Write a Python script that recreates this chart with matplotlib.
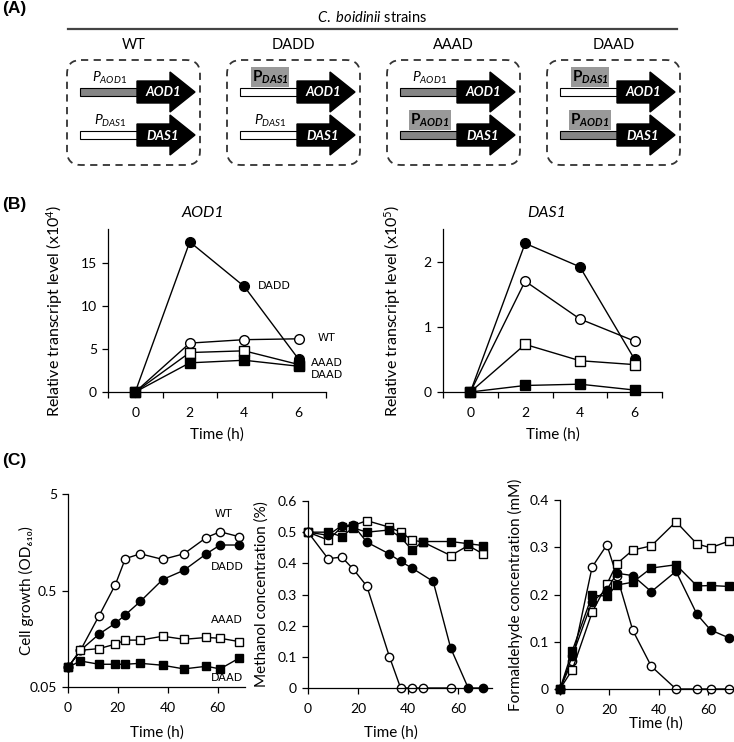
import numpy as np
import matplotlib
matplotlib.use('Agg')
import matplotlib.pyplot as plt
from matplotlib.patches import FancyBboxPatch, Rectangle, Polygon
from matplotlib.ticker import NullLocator

plt.rcParams['font.family'] = ['Lato', 'DejaVu Sans']
plt.rcParams['mathtext.fontset'] = 'custom'
plt.rcParams['mathtext.rm'] = 'Lato'
plt.rcParams['mathtext.it'] = 'Lato:italic'
plt.rcParams['mathtext.bf'] = 'Lato:bold'
plt.rcParams['mathtext.bfit'] = 'Lato:italic:bold'

# (A) strain constructs: promoter driving each gene
strain_names = ['WT', 'DADD', 'AAAD', 'DAAD']
aod1_promoter = ['AOD1', 'DAS1', 'AOD1', 'DAS1']
das1_promoter = ['DAS1', 'DAS1', 'AOD1', 'AOD1']

# (B) transcript levels
b_time = [0, 2, 4, 6]
aod1_wt = [0, 5.7, 6.1, 6.2]
aod1_dadd = [0, 17.5, 12.3, 3.8]
aod1_aaad = [0, 4.6, 4.8, 3.2]
aod1_daad = [0, 3.4, 3.7, 3.0]
das1_wt = [0, 1.70, 1.12, 0.78]
das1_dadd = [0, 2.28, 1.92, 0.50]
das1_aaad = [0, 0.73, 0.48, 0.42]
das1_daad = [0, 0.10, 0.12, 0.03]

# (C) cell growth
growth_time = [0, 5, 12.5, 19, 23, 29, 38, 46.5, 55.5, 61, 68.5]
growth_wt = [0.08, 0.12, 0.275, 0.575, 1.07, 1.2, 1.05, 1.2, 1.77, 2.03, 1.81]
growth_dadd = [0.08, 0.12, 0.177, 0.229, 0.28, 0.385, 0.65, 0.81, 1.2, 1.48, 1.48]
growth_aaad = [0.08, 0.12, 0.125, 0.139, 0.153, 0.153, 0.168, 0.156, 0.163, 0.16, 0.148]
growth_daad = [0.08, 0.093, 0.086, 0.086, 0.086, 0.088, 0.084, 0.077, 0.082, 0.077, 0.099]

# (C) methanol
meoh_time = [0, 8, 13.5, 18, 23.5, 32.5, 37, 41.5, 46, 57, 64, 70]
meoh_time_wt = [0, 8, 13.5, 18, 23.5, 32.5, 37, 41.5, 46, 57]
meoh_time_dadd = [0, 8, 13.5, 18, 23.5, 32.5, 37, 41.5, 50, 57, 64, 70]
meoh_wt = [0.5, 0.415, 0.42, 0.382, 0.327, 0.101, 0, 0, 0, 0]
meoh_dadd = [0.5, 0.49, 0.521, 0.523, 0.468, 0.43, 0.406, 0.385, 0.342, 0.128, 0, 0]
meoh_aaad = [0.5, 0.475, 0.516, 0.521, 0.537, 0.516, 0.5, 0.475, 0.468, 0.425, 0.457, 0.43]
meoh_daad = [0.5, 0.5, 0.486, 0.514, 0.5, 0.507, 0.484, 0.443, 0.47, 0.47, 0.463, 0.457]

# (C) formaldehyde
fa_time = [0, 5, 13, 19, 23, 29.5, 37, 47, 55.5, 61, 68.5]
fa_wt = [0, 0.06, 0.258, 0.305, 0.24, 0.124, 0.048, 0, 0, 0, 0]
fa_dadd = [0, 0.07, 0.185, 0.21, 0.245, 0.24, 0.206, 0.249, 0.158, 0.125, 0.108]
fa_aaad = [0, 0.041, 0.162, 0.222, 0.265, 0.294, 0.303, 0.354, 0.307, 0.299, 0.313]
fa_daad = [0, 0.081, 0.198, 0.197, 0.22, 0.226, 0.256, 0.263, 0.218, 0.219, 0.217]

W, H = 734, 742
fig = plt.figure(figsize=(W / 100, H / 100), dpi=100)


def px_axes(x0, y_top, x1, y_bot):
    return fig.add_axes([x0 / W, 1 - y_bot / H, (x1 - x0) / W, (y_bot - y_top) / H])


def style(ax):
    for s in ['top', 'right']:
        ax.spines[s].set_visible(False)
    for s in ['left', 'bottom']:
        ax.spines[s].set_linewidth(0.9)
    ax.tick_params(direction='out', length=4, width=0.9, labelsize=10, pad=4)
    ax.tick_params(axis='x', pad=7)
    ax.patch.set_alpha(0)


def series(ax, x, y, marker, filled, ms):
    ax.plot(x, y, color='black', lw=1.0, marker=marker, ms=ms,
            mfc='black' if filled else 'white', mec='black', mew=1.0, clip_on=False)


def b_axis(ax):
    style(ax)
    ax.set_xlim(-1, 7)
    ax.set_xticks([-1, 1, 3, 5, 7])
    ax.set_xticklabels([])
    ax.set_xticks([0, 2, 4, 6], minor=True)
    ax.set_xticklabels(['0', '2', '4', '6'], minor=True)
    ax.tick_params(axis='x', which='minor', length=0, labelsize=10, pad=11)
    ax.set_xlabel('Time (h)', fontsize=11)
    ax.xaxis.set_label_coords(0.5, -0.215)


# ---- (B) AOD1
ax1 = px_axes(108, 229, 326, 392)
b_axis(ax1)
ax1.set_ylim(0, 19)
ax1.set_yticks([0, 5, 10, 15])
series(ax1, b_time, aod1_dadd, 'o', True, 7)
series(ax1, b_time, aod1_wt, 'o', False, 7)
series(ax1, b_time, aod1_aaad, 's', False, 6.5)
series(ax1, b_time, aod1_daad, 's', True, 6.5)
ax1.set_ylabel('Relative transcript level (x10$^{4}$)', fontsize=11.5)
ax1.yaxis.set_label_coords(-0.197, 0.5)
ax1.text(0.436, 1.1, 'AOD1', transform=ax1.transAxes, ha='center', va='center',
         fontsize=11.5, style='italic')
lab = dict(fontsize=8, family='DejaVu Sans', va='center', ha='left')
ax1.text(4.5, 12.3, 'DADD', **lab)
ax1.text(6.7, 6.3, 'WT', **lab)
ax1.text(6.45, 3.4, 'AAAD', **lab)
ax1.text(6.45, 2.0, 'DAAD', **lab)

# ---- (B) DAS1
ax2 = px_axes(443, 229, 662, 392)
b_axis(ax2)
ax2.set_ylim(0, 2.5)
ax2.set_yticks([0, 1, 2])
series(ax2, b_time, das1_dadd, 'o', True, 7)
series(ax2, b_time, das1_wt, 'o', False, 7)
series(ax2, b_time, das1_aaad, 's', False, 6.5)
series(ax2, b_time, das1_daad, 's', True, 6.5)
ax2.set_ylabel('Relative transcript level (x10$^{5}$)', fontsize=11.5)
ax2.yaxis.set_label_coords(-0.183, 0.5)
ax2.text(0.475, 1.1, 'DAS1', transform=ax2.transAxes, ha='center', va='center',
         fontsize=11.5, style='italic')

# ---- (C) cell growth
ax3 = px_axes(68, 494, 245, 687)
style(ax3)
ax3.set_yscale('log')
ax3.set_ylim(0.05, 5)
ax3.set_yticks([0.05, 0.5, 5])
ax3.set_yticklabels(['0.05', '0.5', '5'])
ax3.yaxis.set_minor_locator(NullLocator())
ax3.set_xlim(0, 71)
ax3.set_xticks([0, 20, 40, 60])
series(ax3, growth_time, growth_wt, 'o', False, 6)
series(ax3, growth_time, growth_dadd, 'o', True, 6)
series(ax3, growth_time, growth_aaad, 's', False, 5.5)
series(ax3, growth_time, growth_daad, 's', True, 5.5)
ax3.set_ylabel('Cell growth (OD₆₁₀)', fontsize=11)
ax3.yaxis.set_label_coords(-0.192, 0.5)
ax3.set_xlabel('Time (h)', fontsize=11)
ax3.xaxis.set_label_coords(0.5, -0.2)
lab_c = dict(fontsize=8, family='DejaVu Sans', va='center', ha='center')
ax3.text(62.2, 3.1, 'WT', **lab_c)
ax3.text(63.8, 0.88, 'DADD', **lab_c)
ax3.text(63.8, 0.25, 'AAAD', **lab_c)
ax3.text(63.8, 0.062, 'DAAD', **lab_c)

# ---- (C) methanol
ax4 = px_axes(308, 501, 492, 688)
style(ax4)
ax4.set_ylim(0, 0.6)
ax4.set_yticks(np.arange(0, 0.61, 0.1))
ax4.set_yticklabels(['0', '0.1', '0.2', '0.3', '0.4', '0.5', '0.6'])
ax4.set_xlim(0, 73.5)
ax4.set_xticks([0, 20, 40, 60])
series(ax4, meoh_time, meoh_aaad, 's', False, 5.5)
series(ax4, meoh_time, meoh_daad, 's', True, 5.5)
series(ax4, meoh_time_dadd, meoh_dadd, 'o', True, 6)
series(ax4, meoh_time_wt, meoh_wt, 'o', False, 6)
ax4.set_ylabel('Methanol concentration (%)', fontsize=11)
ax4.yaxis.set_label_coords(-0.212, 0.5)
ax4.set_xlabel('Time (h)', fontsize=11)
ax4.xaxis.set_label_coords(0.45, -0.198)

# ---- (C) formaldehyde
ax5 = px_axes(560, 500, 734, 689)
style(ax5)
ax5.set_ylim(0, 0.4)
ax5.set_yticks(np.arange(0, 0.41, 0.1))
ax5.set_yticklabels(['0', '0.1', '0.2', '0.3', '0.4'])
ax5.set_xlim(0, 70.5)
ax5.set_xticks([0, 20, 40, 60])
series(ax5, fa_time, fa_wt, 'o', False, 6)
series(ax5, fa_time, fa_aaad, 's', False, 5.5)
series(ax5, fa_time, fa_dadd, 'o', True, 6)
series(ax5, fa_time, fa_daad, 's', True, 5.5)
ax5.set_ylabel('Formaldehyde concentration (mM)', fontsize=11)
ax5.yaxis.set_label_coords(-0.213, 0.5)
ax5.set_xlabel('Time (h)', fontsize=11)
ax5.xaxis.set_label_coords(0.55, -0.143)

# ---- overlay in pixel coordinates: panel (A) and panel letters
ov = fig.add_axes([0, 0, 1, 1])
ov.set_xlim(0, W)
ov.set_ylim(H, 0)
ov.axis('off')

for letter, y in [('(A)', 9), ('(B)', 205), ('(C)', 460)]:
    ov.text(2, y, letter, fontsize=12.5, fontweight='bold', family='Liberation Sans',
            ha='left', va='center')

ov.text(372, 17, r'$\mathit{C.\ boidinii}$ strains', fontsize=10.5, ha='center', va='center')
ov.plot([68, 677], [29, 29], color='#444444', lw=1.6)

promoter_color = {'AOD1': '#858585', 'DAS1': 'white'}


def draw_gene(x0, yc, promoter, gene):
    ov.add_patch(Rectangle((x0 + 13, yc - 4), 58, 8, fc=promoter_color[promoter],
                           ec='black', lw=0.8))
    ov.add_patch(Polygon([(x0 + 70, yc - 11), (x0 + 103, yc - 11), (x0 + 103, yc - 20),
                          (x0 + 128, yc), (x0 + 103, yc + 20), (x0 + 103, yc + 11),
                          (x0 + 70, yc + 11)], closed=True, fc='black', ec='black'))
    ov.text(x0 + 96, yc + 0.5, gene, color='white', fontsize=9.5, fontweight='bold',
            style='italic', ha='center', va='center')
    if promoter == gene:
        ov.text(x0 + 43, yc - 14, r'$P_{%s}$' % promoter, fontsize=10,
                ha='center', va='center')
    else:
        ov.text(x0 + 43, yc - 15, r'$\mathbf{P}_{\mathbfit{%s}}$' % promoter, fontsize=11,
                ha='center', va='center',
                bbox=dict(fc='#999999', ec='none', pad=0.8))


for i, name in enumerate(strain_names):
    x0 = 67 + 160 * i
    ov.text(x0 + 66.5, 45, name, fontsize=10.5, ha='center', va='center')
    ov.add_patch(FancyBboxPatch((x0, 60), 133, 105,
                                boxstyle='round,pad=0,rounding_size=14',
                                fc='none', ec='#333333', lw=1.3, ls=(0, (4, 3))))
    draw_gene(x0, 92, aod1_promoter[i], 'AOD1')
    draw_gene(x0, 135, das1_promoter[i], 'DAS1')

fig.savefig('out.png', dpi=100)
